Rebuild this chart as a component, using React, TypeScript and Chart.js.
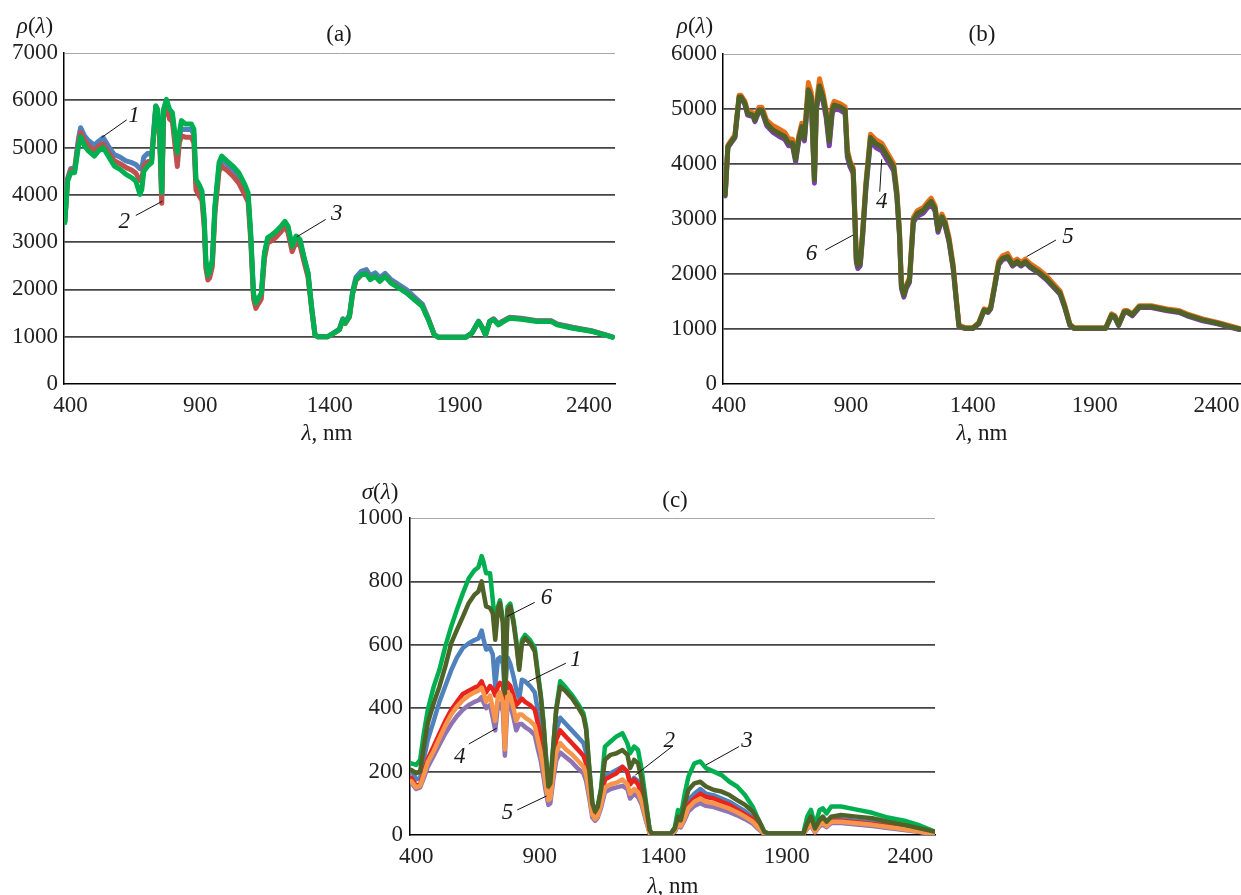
import React, { useEffect, useRef } from 'react';
import { Chart, registerables } from 'chart.js';

Chart.register(...registerables);

// ---------------- Panel (a): rho(lambda), series 1-3 ----------------
const WL_A = [378,389,401,416,431,439,454,469,492,508,526,546,569,591,614,637,652,668,675,683,698,713,729,736,744,752,759,770,782,793,805,812,820,828,843,866,876,884,896,907,916,922,930,937,947,957,973,983,1003,1026,1049,1072,1085,1095,1106,1115,1125,1136,1148,1160,1178,1194,1212,1227,1239,1255,1270,1285,1300,1316,1331,1343,1354,1392,1415,1437,1450,1460,1476,1488,1501,1521,1541,1556,1575,1593,1613,1636,1666,1697,1727,1757,1780,1803,1818,1925,1948,1974,1989,2001,2017,2032,2050,2070,2093,2139,2200,2254,2277,2337,2414,2459,2490];
const A1 = [3450,4350,4560,4560,5200,5420,5250,5150,5050,5130,5210,5030,4850,4800,4720,4680,4640,4550,4560,4800,4880,4850,5880,5780,5300,3980,5780,5950,5750,5680,5100,4800,5250,5400,5380,5380,5280,4250,4150,4020,3420,2580,2280,2340,2580,3720,4600,4720,4650,4530,4400,4150,3980,3150,1880,1680,1780,1880,2740,3060,3120,3190,3300,3400,3300,2880,3090,3020,2680,2350,1580,1050,1000,1000,1080,1160,1380,1310,1460,1960,2260,2380,2420,2290,2350,2250,2340,2210,2100,1990,1840,1690,1390,1050,990,990,1080,1330,1190,1045,1330,1380,1270,1340,1410,1390,1340,1340,1270,1200,1120,1050,995];
const A2 = [3420,4320,4520,4520,5120,5320,5150,5040,4930,5030,5080,4900,4720,4660,4580,4520,4460,4300,4330,4620,4700,4720,5850,5650,5150,3820,5650,5880,5600,5550,4950,4600,5100,5250,5220,5220,5100,4100,3980,3880,3300,2450,2200,2250,2480,3600,4500,4600,4520,4400,4250,4000,3850,3050,1800,1600,1700,1800,2650,2980,3040,3110,3220,3330,3200,2800,3000,2940,2600,2260,1540,1030,1000,1000,1070,1150,1350,1280,1420,1900,2190,2300,2340,2220,2280,2180,2280,2150,2040,1930,1790,1650,1370,1040,990,990,1075,1320,1180,1040,1320,1370,1260,1330,1400,1380,1330,1330,1260,1190,1115,1045,992];
const A3 = [3410,4290,4470,4470,5035,5230,5035,4930,4820,4930,5000,4820,4610,4540,4435,4360,4290,4010,4115,4500,4610,4680,5880,5810,5320,4050,5810,6020,5810,5740,5180,4890,5320,5570,5500,5500,5390,4330,4220,4080,3480,2630,2300,2380,2630,3760,4680,4820,4720,4610,4470,4220,4045,3200,1920,1710,1820,1920,2770,3090,3160,3230,3340,3440,3340,2910,3130,3060,2700,2350,1570,1040,1000,1000,1075,1150,1360,1290,1430,1920,2205,2310,2330,2205,2280,2170,2280,2135,2030,1920,1780,1640,1360,1040,990,990,1075,1320,1180,1040,1320,1360,1250,1320,1390,1370,1320,1320,1250,1180,1110,1040,990];

// ---------------- Panel (b): rho(lambda), series 4-6 ----------------
const WL_B = [384,395,408,424,441,449,465,476,498,506,522,535,554,579,603,628,644,660,673,685,698,709,725,737,750,758,771,785,798,811,823,831,855,876,885,896,909,916,922,928,938,948,961,980,1002,1026,1050,1075,1088,1099,1107,1117,1127,1140,1156,1172,1197,1213,1229,1245,1257,1273,1286,1302,1319,1332,1343,1367,1400,1424,1446,1462,1473,1489,1506,1522,1543,1563,1582,1598,1615,1636,1668,1701,1733,1758,1777,1798,1815,1945,1969,1982,1998,2021,2034,2054,2083,2132,2197,2246,2278,2343,2408,2457,2493];
const B4 = [3420,4300,4380,4480,5200,5200,5080,4890,4860,4770,4950,4950,4700,4580,4510,4450,4330,4330,4040,4400,4630,4420,5300,5160,3650,4980,5350,5150,4850,4330,4920,5000,4980,4920,4130,3950,3830,2990,2210,2100,2150,2690,3530,4420,4300,4240,4060,3880,3410,2700,1740,1580,1740,1850,2940,3050,3110,3200,3280,3140,2760,3000,2880,2590,2100,1510,1040,1010,1010,1090,1330,1300,1365,1750,2170,2260,2290,2145,2205,2145,2205,2115,2020,1900,1750,1630,1390,1065,1010,1010,1240,1210,1065,1300,1300,1240,1390,1390,1330,1300,1240,1150,1090,1030,990];
const B5 = [3460,4340,4430,4530,5250,5250,5140,4960,4930,4850,5030,5030,4800,4700,4640,4580,4460,4450,4120,4500,4740,4540,5480,5300,3760,5120,5550,5300,4980,4480,5050,5140,5100,5040,4260,4060,3930,3080,2290,2180,2230,2790,3650,4540,4440,4380,4200,4010,3520,2780,1800,1650,1800,1930,3030,3150,3210,3300,3380,3240,2850,3090,2970,2670,2175,1560,1070,1025,1025,1115,1365,1335,1405,1800,2235,2330,2370,2215,2270,2215,2270,2185,2090,1970,1810,1690,1435,1090,1025,1025,1275,1245,1090,1335,1335,1275,1425,1425,1365,1335,1275,1185,1115,1055,1010];
const B6 = [3440,4320,4400,4500,5220,5220,5100,4920,4890,4800,4980,4980,4740,4620,4560,4500,4380,4380,4080,4440,4680,4470,5350,5220,3720,5040,5420,5220,4920,4420,4980,5070,5040,4980,4200,4010,3890,3040,2255,2150,2195,2740,3590,4480,4370,4310,4130,3950,3465,2740,1770,1620,1770,1890,2980,3100,3160,3250,3320,3190,2800,3040,2920,2620,2135,1530,1050,1015,1015,1100,1345,1315,1380,1770,2195,2285,2315,2165,2225,2165,2225,2135,2040,1920,1770,1650,1405,1075,1015,1015,1255,1225,1075,1315,1315,1255,1405,1405,1345,1315,1255,1165,1100,1040,1000];

// ---------------- Panel (c): sigma(lambda), series 1-6 ----------------
const WL_C = [380,400,416,431,447,471,494,518,542,565,589,613,636,652,665,672,683,699,710,720,731,739,751,759,770,781,794,805,817,828,841,861,880,893,904,915,924,935,943,956,967,983,1006,1030,1054,1077,1088,1101,1113,1124,1135,1148,1164,1187,1211,1235,1255,1266,1282,1298,1313,1329,1345,1353,1431,1447,1460,1471,1487,1502,1526,1550,1573,1605,1636,1668,1699,1731,1762,1786,1809,1825,1967,1983,1998,2014,2033,2046,2061,2080,2120,2183,2246,2309,2376,2439,2502];
const C1 = [205,175,180,240,300,360,420,470,520,560,590,605,615,620,645,620,585,590,570,470,555,560,540,450,560,540,500,460,430,490,485,470,450,390,350,280,220,150,160,250,330,370,350,330,310,290,260,170,80,65,80,120,185,195,205,215,195,165,180,170,130,70,10,4,4,15,45,38,70,110,130,145,130,125,115,105,90,75,55,30,5,4,4,30,45,15,40,45,35,50,50,45,40,32,24,15,5];
const C2 = [180,155,160,200,240,280,320,360,395,420,445,455,465,470,485,470,450,470,460,440,470,480,470,420,480,470,440,410,420,430,420,410,395,350,310,260,200,135,140,230,300,330,310,290,270,250,225,150,75,60,70,110,175,185,195,215,200,160,175,160,125,65,8,4,4,14,40,33,60,95,115,130,120,115,105,95,80,65,50,28,5,4,4,25,38,12,35,40,30,45,45,40,35,28,20,12,4];
const C3 = [226,221,237,321,395,468,521,595,658,711,763,810,835,845,880,863,826,826,742,660,720,740,680,455,720,730,678,615,530,615,631,615,590,510,445,360,262,155,165,292,400,485,465,442,415,384,340,210,102,75,90,145,279,295,311,321,289,258,279,268,205,110,16,5,5,25,79,60,130,184,226,232,211,200,189,168,153,126,89,47,10,5,5,58,79,30,79,84,68,90,90,80,70,55,45,30,10];
const C4 = [165,145,150,180,215,250,285,320,350,375,395,410,420,425,435,420,400,410,370,330,410,415,390,250,420,410,370,330,350,350,340,330,315,270,235,185,140,95,100,180,235,260,245,230,210,195,170,115,55,45,55,85,135,145,150,155,145,115,130,120,95,48,5,3,3,10,30,24,48,75,92,100,92,88,80,72,62,50,36,18,3,2,2,20,30,8,28,33,25,38,38,33,28,22,16,9,2];
const C5 = [170,150,155,190,230,265,305,345,380,405,425,440,450,455,465,450,420,440,400,360,440,450,420,270,450,440,400,360,380,380,370,360,345,300,260,210,160,110,115,200,260,290,270,255,235,215,190,130,65,50,60,95,150,160,165,175,160,130,145,135,105,55,6,4,4,12,35,28,55,85,105,115,105,100,92,83,72,58,42,22,4,3,3,22,35,10,32,38,28,42,42,37,32,25,18,10,3];
const C6 = [205,195,200,279,353,416,468,532,605,647,689,732,758,768,800,768,721,716,700,616,711,732,668,447,711,721,668,605,521,605,621,605,579,500,437,353,258,153,163,289,395,468,453,432,405,374,332,205,100,74,89,142,237,253,258,268,253,211,237,226,174,100,16,5,5,21,58,47,100,142,163,168,153,142,137,126,110,95,74,47,10,5,5,37,58,21,47,58,42,58,63,58,53,42,32,21,10];

const X_TICKS = [400, 900, 1400, 1900, 2400];
const X_MIN = 375;
const X_MAX = 2500;

const SERIF = '"Liberation Serif", "DejaVu Serif", "Times New Roman", serif';
const FONT_SIZE = 23;

const COL = {
  blue: '#4F81BD',
  redA: '#C0504D',
  redC: '#E8231E',
  green: '#00B050',
  purpleB: '#7A3FA8',
  purpleC: '#8E74B4',
  orangeB: '#E8701A',
  orangeC: '#F7964A',
  olive: '#4F6228',
};

type Seg = [string, boolean];
type Ann = { text: string; tx: number; ty: number; x1: number; y1: number; x2: number; y2: number };
type Series = { data: number[]; color: string; width: number };
type Spec = {
  box: { left: number; top: number; width: number; height: number };
  area: { left: number; right: number; top: number; bottom: number };
  wl: number[];
  series: Series[]; // first = topmost
  yMax: number;
  yStep: number;
  yLabel: Seg[];
  yLabelPos: [number, number];
  title: string;
  titlePos: [number, number];
  xTitlePos: [number, number];
  ann: Ann[];
  tickPad: number;
};

const Y_AXIS_W = 60;
const X_AXIS_H = 40;

function drawSegs(ctx: CanvasRenderingContext2D, segs: Seg[], cx: number, cy: number, size: number) {
  const fonts = segs.map(([, it]) => `${it ? 'italic ' : ''}${size}px ${SERIF}`);
  let total = 0;
  const widths = segs.map(([t], i) => {
    ctx.font = fonts[i];
    const w = ctx.measureText(t).width;
    total += w;
    return w;
  });
  let x = cx - total / 2;
  ctx.textBaseline = 'middle';
  ctx.textAlign = 'left';
  segs.forEach(([t], i) => {
    ctx.font = fonts[i];
    ctx.fillText(t, x, cy);
    x += widths[i];
  });
}

function buildConfig(spec: Spec): any {
  const { box, area } = spec;
  const overlay = {
    id: 'overlay',
    afterDraw(chart: any) {
      const ctx: CanvasRenderingContext2D = chart.ctx;
      const xs = chart.scales.x;
      const ys = chart.scales.y;
      ctx.save();
      ctx.fillStyle = '#1a1a1a';
      drawSegs(ctx, spec.yLabel, spec.yLabelPos[0], spec.yLabelPos[1], FONT_SIZE);
      drawSegs(ctx, [[spec.title, false]], spec.titlePos[0], spec.titlePos[1], FONT_SIZE);
      drawSegs(ctx, [['λ', true], [', nm', false]], spec.xTitlePos[0], spec.xTitlePos[1], FONT_SIZE);
      ctx.strokeStyle = '#111';
      ctx.lineWidth = 1;
      for (const a of spec.ann) {
        ctx.beginPath();
        ctx.moveTo(xs.getPixelForValue(a.x1), ys.getPixelForValue(a.y1));
        ctx.lineTo(xs.getPixelForValue(a.x2), ys.getPixelForValue(a.y2));
        ctx.stroke();
        drawSegs(ctx, [[a.text, true]], xs.getPixelForValue(a.tx), ys.getPixelForValue(a.ty), FONT_SIZE);
      }
      ctx.restore();
    },
  };

  return {
    type: 'line',
    data: {
      datasets: spec.series.map((s) => ({
        data: spec.wl.map((x, i) => ({ x, y: s.data[i] })),
        borderColor: s.color,
        backgroundColor: s.color,
        borderWidth: s.width,
        borderJoinStyle: 'round',
        borderCapStyle: 'round',
        pointRadius: 0,
        tension: 0,
        fill: false,
      })),
    },
    options: {
      animation: false,
      responsive: false,
      devicePixelRatio: 1,
      events: [],
      layout: {
        padding: {
          left: area.left - Y_AXIS_W,
          right: box.width - area.right,
          top: area.top,
          bottom: box.height - area.bottom - X_AXIS_H,
        },
      },
      plugins: { legend: { display: false }, tooltip: { enabled: false }, title: { display: false } },
      scales: {
        x: {
          type: 'linear',
          min: X_MIN,
          max: X_MAX,
          afterBuildTicks: (s: any) => {
            s.ticks = X_TICKS.map((v) => ({ value: v }));
          },
          afterFit: (s: any) => {
            s.height = X_AXIS_H;
            s.paddingLeft = 0;
            s.paddingRight = 0;
          },
          grid: { display: true, drawOnChartArea: false, drawTicks: false },
          border: { display: true, color: '#000', width: 1.5 },
          ticks: {
            autoSkip: false,
            maxRotation: 0,
            padding: 8,
            color: '#222',
            font: { family: SERIF, size: FONT_SIZE },
            callback: (v: any) => String(v),
          },
        },
        y: {
          type: 'linear',
          min: 0,
          max: spec.yMax,
          afterFit: (s: any) => {
            s.width = Y_AXIS_W;
            s.paddingTop = 0;
            s.paddingBottom = 0;
          },
          grid: {
            drawTicks: false,
            color: (c: any) =>
              c.tick && c.tick.value === spec.yMax ? '#a8a8a8' : c.tick && c.tick.value === 0 ? 'rgba(0,0,0,0)' : '#454545',
            lineWidth: (c: any) => (c.tick && c.tick.value === spec.yMax ? 1 : 1.7),
          },
          border: { display: true, color: '#000', width: 1.5 },
          ticks: {
            stepSize: spec.yStep,
            padding: spec.tickPad,
            color: '#222',
            font: { family: SERIF, size: FONT_SIZE },
            callback: (v: any) => String(v),
          },
        },
      },
    },
    plugins: [overlay],
  };
}

const SPEC_A: Spec = {
  box: { left: 0, top: 0, width: 620, height: 450 },
  area: { left: 64, right: 615, top: 53, bottom: 384 },
  wl: WL_A,
  series: [
    { data: A3, color: COL.green, width: 5 },
    { data: A2, color: COL.redA, width: 5 },
    { data: A1, color: COL.blue, width: 5 },
  ],
  yMax: 7000,
  yStep: 1000,
  yLabel: [['ρ', true], ['(', false], ['λ', true], [')', false]],
  yLabelPos: [35, 27],
  title: '(a)',
  titlePos: [339, 35],
  xTitlePos: [327, 434],
  tickPad: 6,
  ann: [
    { text: '1', tx: 645, ty: 5672, x1: 617, y1: 5587, x2: 520, y2: 5212 },
    { text: '2', tx: 607, ty: 3423, x1: 652, y1: 3564, x2: 755, y2: 3868 },
    { text: '3', tx: 1427, ty: 3600, x1: 1384, y1: 3480, x2: 1273, y2: 3112 },
  ],
};

const SPEC_B: Spec = {
  box: { left: 620, top: 0, width: 621, height: 450 },
  area: { left: 103, right: 621, top: 54, bottom: 384 },
  wl: WL_B,
  series: [
    { data: B6, color: COL.olive, width: 5 },
    { data: B5, color: COL.orangeB, width: 5 },
    { data: B4, color: COL.purpleB, width: 5 },
  ],
  yMax: 6000,
  yStep: 1000,
  yLabel: [['ρ', true], ['(', false], ['λ', true], [')', false]],
  yLabelPos: [75, 27],
  title: '(b)',
  titlePos: [362, 35],
  xTitlePos: [362, 434],
  tickPad: 6,
  ann: [
    { text: '4', tx: 1026, ty: 3315, x1: 1018, y1: 3497, x2: 1026, y2: 4085 },
    { text: '5', tx: 1790, ty: 2679, x1: 1741, y1: 2618, x2: 1620, y2: 2315 },
    { text: '6', tx: 738, ty: 2364, x1: 795, y1: 2436, x2: 909, y2: 2709 },
  ],
};

const SPEC_C: Spec = {
  box: { left: 340, top: 465, width: 600, height: 430 },
  area: { left: 70, right: 595, top: 53, bottom: 370 },
  wl: WL_C,
  series: [
    { data: C6, color: COL.olive, width: 4.5 },
    { data: C5, color: COL.orangeC, width: 4.5 },
    { data: C4, color: COL.purpleC, width: 4.5 },
    { data: C3, color: COL.green, width: 4.5 },
    { data: C2, color: COL.redC, width: 4.5 },
    { data: C1, color: COL.blue, width: 4.5 },
  ],
  yMax: 1000,
  yStep: 200,
  yLabel: [['σ', true], ['(', false], ['λ', true], [')', false]],
  yLabelPos: [40, 28],
  title: '(c)',
  titlePos: [335, 36],
  xTitlePos: [333, 422],
  tickPad: 7,
  ann: [
    { text: '6', tx: 928, ty: 747, x1: 880, y1: 734, x2: 767, y2: 689 },
    { text: '1', tx: 1046, ty: 553, x1: 1006, y1: 542, x2: 854, y2: 484 },
    { text: '4', tx: 576, ty: 245, x1: 613, y1: 287, x2: 726, y2: 337 },
    { text: '5', tx: 770, ty: 68, x1: 809, y1: 79, x2: 928, y2: 123 },
    { text: '2', tx: 1424, ty: 298, x1: 1439, y1: 281, x2: 1287, y2: 189 },
    { text: '3', tx: 1739, ty: 298, x1: 1707, y1: 279, x2: 1573, y2: 221 },
  ],
};

function Panel({ spec }: { spec: Spec }) {
  const ref = useRef<HTMLCanvasElement>(null);
  useEffect(() => {
    if (!ref.current) return;
    const chart = new Chart(ref.current, buildConfig(spec));
    return () => chart.destroy();
  }, [spec]);
  const { box } = spec;
  return (
    <canvas
      ref={ref}
      width={box.width}
      height={box.height}
      style={{ position: 'absolute', left: box.left, top: box.top, width: box.width, height: box.height }}
    />
  );
}

export default function App() {
  return (
    <div style={{ position: 'absolute', left: 0, top: 0, width: 1241, height: 895, background: '#fff', overflow: 'hidden' }}>
      <Panel spec={SPEC_A} />
      <Panel spec={SPEC_B} />
      <Panel spec={SPEC_C} />
    </div>
  );
}
